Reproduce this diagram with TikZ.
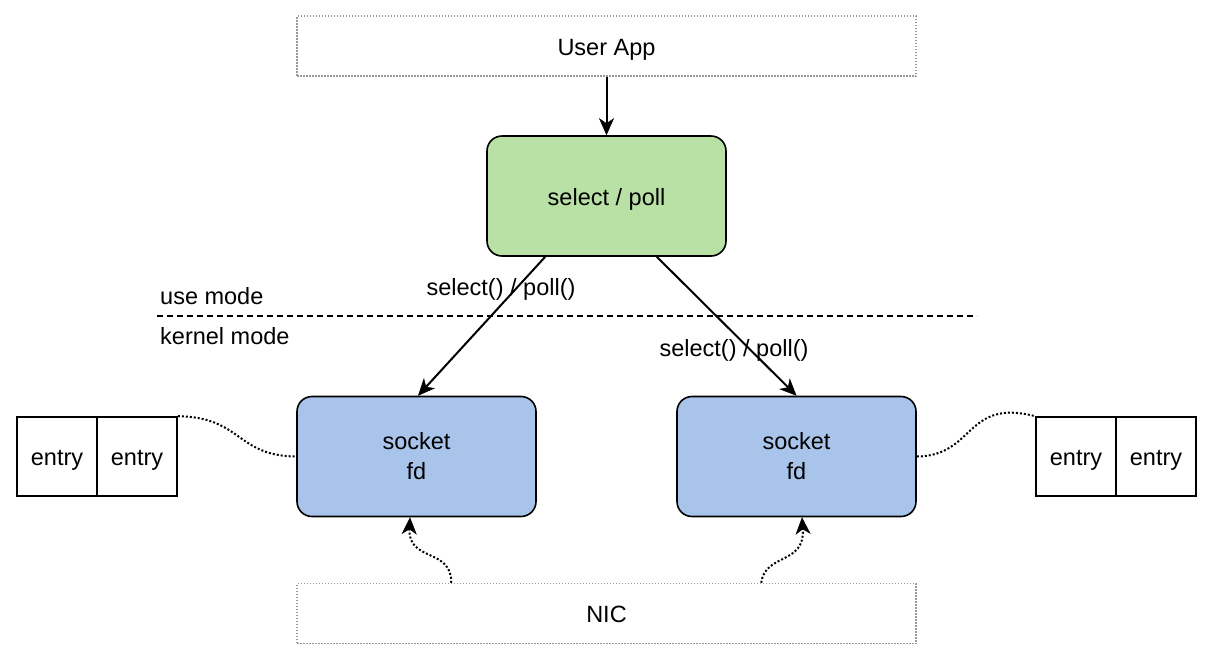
\documentclass[tikz,border=0pt]{standalone}
\usepackage{fontspec}
\setmainfont{Liberation Sans}
\usetikzlibrary{arrows.meta,calc}
\definecolor{selgreen}{HTML}{B9E0A5}
\definecolor{sockblue}{HTML}{A9C4EB}
\definecolor{boxgray}{HTML}{999999}
\begin{document}
\begin{tikzpicture}[x=1pt,y=-1pt,
  font=\fontsize{23.5}{30}\selectfont,
  oneline/.style={text height=20pt, text depth=2pt},
  layerbox/.style={draw=boxgray, line width=1.5pt, dash pattern=on 1.5pt off 1.5pt,
    minimum width=619pt, minimum height=60pt, inner sep=0pt, oneline},
  callbox/.style={draw=black, line width=1.6pt, rounded corners=15pt,
    minimum width=239pt, minimum height=120pt, align=center, inner sep=0pt},
  entrybox/.style={draw=black, line width=1.6pt, minimum width=80pt,
    minimum height=79pt, inner sep=0pt, oneline},
  tipstyle/.style={-{Stealth[length=17pt,width=15pt,inset=5pt,line width=0.5pt]}},
  link/.style={line width=2pt, tipstyle},
  dotlink/.style={line width=2pt, dash pattern=on 2pt off 2pt},
  lbl/.style={inner sep=0pt}]
\useasboundingbox (0,0) rectangle (1214,662);

% layers
\node[layerbox] (app) at (606.5,46) {User App};
\node[layerbox] (nic) at (606.5,613.5) {NIC};

% system call and sockets
\node[callbox, fill=selgreen, oneline] (sel) at (606.5,196) {select / poll};
\node[callbox, fill=sockblue] (sockL) at (416.5,456.5) {socket\\fd};
\node[callbox, fill=sockblue] (sockR) at (796.5,456.5) {socket\\fd};

% wait-queue entries
\node[entrybox] (eL1) at (57,456.5) {entry};
\node[entrybox] (eL2) at (137,456.5) {entry};
\node[entrybox] (eR1) at (1076,456.5) {entry};
\node[entrybox] (eR2) at (1156,456.5) {entry};

% user / kernel boundary
\coordinate (bL) at (157,316);
\coordinate (bR) at (977,316);
\draw[line width=1.6pt, dash pattern=on 6pt off 4pt] (bL) -- (bR);
\node[lbl, anchor=west] (um) at (160,296) {use mode};
\node[lbl, anchor=west] (km) at (160,336) {kernel mode};

% calls
\draw[link] (app.south) -- (sel.north);
\coordinate (sL) at ($(sel.south west)+(59,0)$);
\coordinate (tL) at ($(sockL.north)+(1.5,0)$);
\coordinate (sR) at ($(sel.south east)+(-70,0)$);
\coordinate (tR) at ($(sockR.north)+(0,0)$);
\draw[link] (sL) -- (tL);
\draw[link] (sR) -- (tR);
\node[lbl] (cL) at (501,289) {select() / poll()};
\node[lbl] (cR) at (734,350) {select() / poll()};

% sockets to their wait-queue entries
\draw[dotlink] (eL2.north east) .. controls (242,417) and (236,456) .. (sockL.west);
\draw[dotlink] (sockR.east) .. controls (975,456) and (965,398) .. (eR1.north west);

% NIC wakes the sockets
\coordinate (nL) at ($(nic.north west)+(155,0)$);
\coordinate (nR) at ($(nic.north west)+(465,0)$);
\coordinate (wL) at ($(sockL.south)+(-6.5,0)$);
\coordinate (wR) at ($(sockR.south)+(5.5,0)$);
\draw[dotlink, tipstyle] (nL) .. controls (452,548) and (408,562) .. (wL);
\draw[dotlink, tipstyle] (nR) .. controls (765,553) and (805,565) .. (wR);
\end{tikzpicture}
\end{document}
